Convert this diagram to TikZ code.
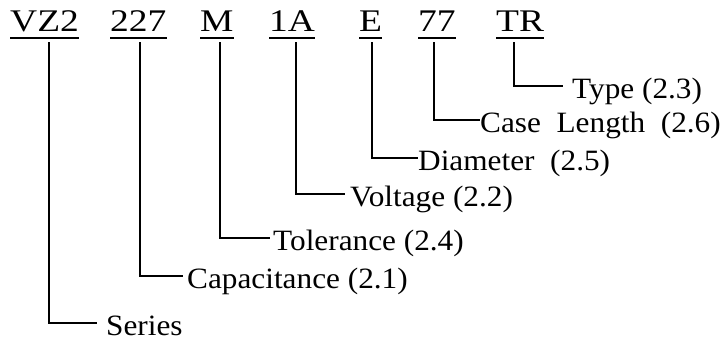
\documentclass[tikz,border=0pt]{standalone}
\usepackage{fontspec}
\setmainfont{Liberation Serif}

\tikzset{
  code/.style={anchor=base west, inner sep=0pt, text depth=7pt,
    font=\fontsize{31.5}{32}\selectfont, xscale=1.19, transform shape,
    append after command={(\tikzlastnode.south west) edge[line width=1.7pt] (\tikzlastnode.south east)}},
  lbl/.style={anchor=west, inner sep=0pt, text height=24pt, text depth=0pt,
    font=\fontsize{29.5}{30}\selectfont, xscale=1.06, transform shape},
  lead/.style={line width=1.6pt}
}

\begin{document}
\begin{tikzpicture}[x=1pt,y=-1pt]
          \useasboundingbox (0,0) rectangle (728,343);

          % part number fields
          \node[code] (vz) at (10,31) {VZ2};
          \node[code] (cp) at (110,31) {227};
          \node[code] (tl) at (200,31) {M};
          \node[code] (vl) at (269,31) {1A};
          \node[code] (dm) at (359,31) {E};
          \node[code] (ln) at (418,31) {77};
          \node[code] (tp) at (496,31) {TR};

          % meanings
          \node[lbl] (tp-l) at (572,86) {Type (2.3)};
          \node[lbl] (ln-l) at (480,120) {Case\ \ Length\ \ (2.6)};
          \node[lbl] (dm-l) at (418,158) {Diameter\ \ (2.5)};
          \node[lbl] (vl-l) at (350,194) {Voltage (2.2)};
          \node[lbl] (tl-l) at (273,238) {Tolerance (2.4)};
          \node[lbl] (cp-l) at (187,276) {Capacitance (2.1)};
          \node[lbl] (vz-l) at (106,323) {Series};

          \draw[lead, shorten >=9pt] ([xshift=-6pt,yshift=-4pt]tp.south) |- (tp-l.west);
          \draw[lead] ([xshift=-2.75pt,yshift=-4pt]ln.south) |- (ln-l.west);
          \draw[lead] ([xshift=1.5pt,yshift=-4pt]dm.south) |- (dm-l.west);
          \draw[lead, shorten >=5pt] ([xshift=4.1pt,yshift=-4pt]vl.south) |- (vl-l.west);
          \draw[lead, shorten >=3pt] ([xshift=3.3pt,yshift=-4pt]tl.south) |- (tl-l.west);
          \draw[lead, shorten >=4pt] ([xshift=1.9pt,yshift=-4pt]cp.south) |- (cp-l.west);
          \draw[lead, shorten >=9pt] ([xshift=4.6pt,yshift=-4pt]vz.south) |- (vz-l.west);

        \end{tikzpicture}
\end{document}
